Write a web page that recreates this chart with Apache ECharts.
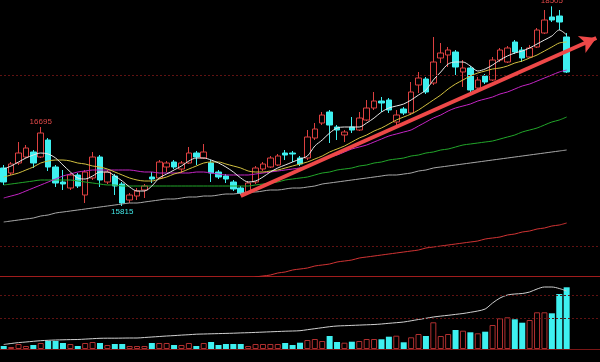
<!DOCTYPE html>
<html><head><meta charset="utf-8">
<script src="https://cdn.jsdelivr.net/npm/echarts@6/dist/echarts.min.js"></script>
<style>html,body{margin:0;padding:0;background:#000;}#c{width:600px;height:362px;}</style>
</head><body><div id="c"></div>
<script>
const dates = ['d1','d2','d3','d4','d5','d6','d7','d8','d9','d10','d11','d12','d13','d14','d15','d16','d17','d18','d19','d20','d21','d22','d23','d24','d25','d26','d27','d28','d29','d30','d31','d32','d33','d34','d35','d36','d37','d38','d39','d40','d41','d42','d43','d44','d45','d46','d47','d48','d49','d50','d51','d52','d53','d54','d55','d56','d57','d58','d59','d60','d61','d62','d63','d64','d65','d66','d67','d68','d69','d70','d71','d72','d73','d74','d75','d76','d77'];
const padCats = ['p1','p2','p3','p4'];
const opens = [16080,16005,16155,16245,16320,16245,16500,16095,15870,15780,15975,15675,15930,16245,15870,15960,15840,15600,15660,15750,15945,15930,16095,16170,16065,16155,16305,16230,16155,16020,15960,15870,15780,15705,15870,16065,16095,16125,16305,16305,16230,16230,16530,16755,16920,16695,16575,16695,16650,16800,16980,17085,17100,16770,16965,16905,17325,17415,17355,17730,17775,17820,17520,17580,17280,17460,17400,17700,17670,17970,17850,17745,17895,18105,18345,18360,18045];
const closes = [15870,16140,16305,16380,16155,16605,16095,15855,15840,15975,15810,16020,16245,15900,16020,15810,15555,15675,15735,15810,15915,16170,16155,16095,16155,16305,16245,16320,16005,15945,15915,15765,15705,15855,16080,16140,16230,16260,16275,16290,16140,16545,16665,16875,16725,16650,16620,16650,16830,16980,17085,17055,16950,16875,16905,17220,17430,17220,17670,17805,17850,17595,17580,17250,17400,17370,17700,17850,17880,17820,17730,17880,18150,18300,18300,18270,17520];
const lows = [15825,15975,16125,16230,16080,16230,16035,15795,15750,15750,15780,15555,15900,15795,15840,15675,15510,15555,15600,15630,15855,15915,16020,16065,16005,16140,16125,16215,15870,15915,15855,15735,15675,15675,15840,16035,16080,16110,16200,16170,16110,16200,16500,16725,16455,16500,16470,16605,16635,16785,16950,16920,16905,16725,16875,16875,17205,17190,17325,17655,17595,17475,17295,17220,17250,17340,17385,17670,17655,17790,17670,17730,17880,18090,18270,18150,17505];
const highs = [16125,16170,16470,16425,16350,16695,16530,16125,16050,16005,16005,16050,16320,16275,16050,15990,15870,15705,15780,15840,16020,16200,16185,16200,16185,16395,16335,16440,16200,16050,15990,15900,15810,15885,16110,16170,16260,16290,16350,16335,16260,16650,16755,16920,16950,16725,16650,16845,16920,17100,17220,17145,17130,16950,16995,17370,17520,17445,18045,17955,17895,17850,17700,17610,17445,17490,17745,17880,17910,18000,17895,17925,18180,18450,18505,18450,18105];
const ma5 = [16065,16110,16170,16230,16275,16305,16290,16230,16125,16020,15930,15915,15960,16020,16020,15960,15885,15795,15735,15735,15810,15930,15990,16050,16110,16185,16230,16230,16200,16155,16095,16020,15930,15870,15885,15945,16020,16080,16125,16170,16215,16260,16410,16500,16605,16680,16695,16695,16695,16755,16830,16920,16980,17010,17040,17100,17175,17250,17400,17520,17640,17670,17670,17610,17535,17565,17625,17700,17760,17805,17835,17880,17940,18000,18060,18150,18075];
const ma10 = [15945,15975,16005,16050,16095,16155,16185,16200,16200,16185,16155,16140,16110,16095,16065,16020,15975,15930,15900,15885,15885,15915,15945,15990,16020,16065,16110,16155,16170,16170,16140,16110,16080,16035,16020,16020,16035,16050,16080,16110,16140,16170,16215,16260,16320,16365,16410,16470,16530,16575,16635,16680,16740,16800,16845,16890,16950,17025,17100,17175,17265,17340,17400,17460,17505,17535,17565,17580,17610,17655,17685,17730,17775,17835,17895,17955,17970];
const ma20 = [15630,15660,15690,15735,15780,15825,15870,15915,15960,15990,16020,16035,16050,16050,16050,16050,16050,16050,16035,16020,16020,16005,16005,16005,16005,16005,16020,16020,16005,15990,15975,15975,15975,15975,15990,16005,16020,16035,16050,16065,16080,16110,16155,16200,16245,16275,16320,16365,16395,16425,16470,16515,16560,16590,16620,16650,16710,16770,16830,16875,16935,16980,17010,17040,17085,17115,17145,17190,17220,17265,17310,17340,17385,17430,17475,17520,17550];
const ma60 = [15825,15840,15855,15870,15885,15900,15900,15900,15900,15900,15885,15870,15855,15840,15825,15825,15810,15810,15810,15810,15810,15810,15810,15810,15810,15810,15810,15810,15810,15810,15810,15810,15810,15810,15825,15840,15855,15870,15900,15915,15930,15945,15975,16005,16020,16050,16065,16080,16110,16125,16155,16170,16200,16215,16230,16260,16275,16305,16320,16350,16365,16395,16425,16440,16455,16470,16485,16515,16545,16575,16620,16650,16680,16725,16770,16800,16845];
const ma120 = [15270,15285,15300,15315,15330,15360,15375,15405,15420,15435,15450,15465,15480,15495,15510,15525,15540,15555,15555,15570,15585,15600,15615,15615,15630,15645,15645,15660,15660,15675,15690,15690,15705,15720,15720,15735,15750,15750,15765,15780,15780,15795,15810,15840,15855,15870,15885,15900,15915,15930,15945,15960,15975,15975,15990,16005,16035,16050,16080,16095,16110,16125,16140,16155,16170,16185,16200,16215,16230,16245,16260,16275,16290,16305,16320,16335,16350];
const ma250 = [null,null,null,null,null,null,null,null,null,null,null,null,null,null,null,null,null,null,null,null,null,null,null,null,null,null,null,null,null,null,14355,14385,14400,14415,14445,14460,14475,14505,14520,14550,14565,14580,14610,14625,14640,14670,14685,14700,14730,14745,14760,14775,14790,14805,14820,14835,14850,14880,14895,14910,14925,14940,14955,14970,14985,15015,15030,15045,15075,15090,15120,15135,15165,15180,15210,15225,15255];
const volumes = [3000,2000,5000,3000,4000,6000,8000,8000,6000,5000,3000,6000,7000,6000,4000,5000,5000,3000,3000,3000,6000,6000,6000,4000,4000,6000,3000,6000,7000,4000,5000,5000,5000,3000,5000,5000,5000,5000,6000,4000,6300,9000,10000,8000,13000,7000,6300,7300,8000,10000,10000,9700,12300,13300,6700,11700,15000,13000,26700,13000,15000,19000,18300,16700,15700,17300,24000,30700,31700,29700,26300,29000,36700,36700,35700,55000,61700];
const volMA = [4500,5500,6400,7000,7700,8300,8700,9000,9200,9400,9500,9900,10300,10700,10800,10800,10900,11000,11000,11500,12000,12500,13000,13400,13900,14300,14800,15000,15200,15400,15600,15800,16100,16300,16600,16900,17200,17500,17800,18000,18300,19300,20300,21300,22300,23000,23300,23600,23900,24200,24500,25000,25700,26300,27000,28200,29500,30700,32000,32900,33700,34600,35500,36700,38000,40000,46000,51000,54000,55000,55500,57000,60000,62000,62000,60500,58000];
const priceGuides = [17475, 14910];
const volGuides = [54000, 31000];
const trendFrom = [32, 15660];
const trendTo = [80, 18030];
const peakMarks = [
  {idx: 5, kind: 'high', text: '16695'},
  {idx: 16, kind: 'low', text: '15815'},
  {idx: 74, kind: 'high', text: '18505'}
];

const UP = '#dc4040', DN = '#3ef0f0';
const xCats = dates.concat(padCats);
const candles = opens.map((o, i) => [o, closes[i], lows[i], highs[i]]);
const volData = volumes.map((v, i) => ({
  value: v,
  itemStyle: closes[i] >= opens[i]
    ? {color: '#000', borderColor: '#b03030', borderWidth: 1}
    : {color: DN, borderColor: DN, borderWidth: 0}
}));
const marks = peakMarks.map(m => ({
  coord: [m.idx, m.kind === 'high' ? highs[m.idx] : lows[m.idx]],
  name: m.text,
  label: {position: m.kind === 'high' ? 'top' : 'bottom', color: m.kind === 'high' ? '#e04848' : '#40e6e6'}
}));
function ma(data, color, extra) {
  return Object.assign({
    type: 'line', data: data, xAxisIndex: 0, yAxisIndex: 0,
    showSymbol: false, symbol: 'none', smooth: 0.3, silent: true,
    lineStyle: {color: color, width: 1}, z: 3
  }, extra || {});
}
const chart = echarts.init(document.getElementById('c'), null, {renderer: 'canvas'});
chart.setOption({
  backgroundColor: '#000',
  animation: false,
  grid: [
    {left: 0, right: 0, top: 0, height: 276},
    {left: 0, right: 0, top: 277, height: 72}
  ],
  xAxis: [
    {type: 'category', gridIndex: 0, data: xCats, boundaryGap: true,
     axisLine: {onZero: false, lineStyle: {color: '#a01c1c', width: 1}},
     axisTick: {show: false}, axisLabel: {show: false}, splitLine: {show: false}},
    {type: 'category', gridIndex: 1, data: xCats, boundaryGap: true,
     axisLine: {onZero: false, lineStyle: {color: '#7a1616', width: 1}},
     axisTick: {show: false}, axisLabel: {show: false}, splitLine: {show: false}}
  ],
  yAxis: [
    {gridIndex: 0, min: 14460, max: 18600, show: false, splitLine: {show: false}},
    {gridIndex: 1, min: 0, max: 72000, show: false, splitLine: {show: false}}
  ],
  series: [
    {
      type: 'candlestick', data: candles, xAxisIndex: 0, yAxisIndex: 0,
      barWidth: 6, z: 2,
      itemStyle: {color: '#000', color0: DN, borderColor: UP, borderColor0: DN, borderWidth: 1},
      markPoint: {
        symbol: 'circle', symbolSize: 1, silent: true,
        itemStyle: {color: 'rgba(0,0,0,0)'},
        label: {show: true, formatter: p => p.name, fontSize: 8, fontFamily: 'Liberation Sans', distance: 1},
        data: marks
      }
    },
    ma(ma250, '#d03434'),
    ma(ma120, '#a8a8a8', {
      markLine: {
        silent: true, symbol: ['none', 'none'], label: {show: false},
        lineStyle: {color: '#601212', type: [2, 2], width: 1},
        data: priceGuides.map(v => ({yAxis: v}))
      }
    }),
    ma(ma60, '#22a62a'),
    ma(ma20, '#c424c4'),
    ma(ma10, '#d2c040'),
    ma(ma5, '#e6e6e6', {
      markLine: {
        silent: true, symbol: ['none', 'arrow'], symbolSize: [14, 16], label: {show: false},
        lineStyle: {color: '#ee4848', width: 4, type: 'solid'},
        data: [[{coord: trendFrom}, {coord: trendTo}]]
      }
    }),
    {
      type: 'bar', data: volData, xAxisIndex: 1, yAxisIndex: 1, barWidth: 6, silent: true,
      markLine: {
        silent: true, symbol: ['none', 'none'], label: {show: false},
        lineStyle: {color: '#601212', type: [2, 2], width: 1},
        data: volGuides.map(v => ({yAxis: v}))
      }
    },
    {
      type: 'line', data: volMA, xAxisIndex: 1, yAxisIndex: 1, showSymbol: false, symbol: 'none',
      smooth: 0.3, silent: true, lineStyle: {color: '#d0d0d0', width: 1}
    }
  ]
});
</script>
</body></html>
